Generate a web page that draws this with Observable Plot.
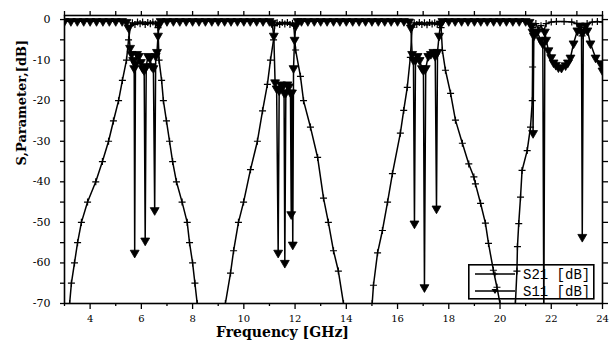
<!DOCTYPE html>
<html><head><meta charset="utf-8">
<script src="https://cdn.jsdelivr.net/npm/d3@7"></script>
<script src="https://cdn.jsdelivr.net/npm/@observablehq/plot@0.6"></script>
<style>
html,body{margin:0;padding:0;background:#fff;}
#wrap{position:relative;width:616px;height:347px;overflow:hidden;}
#legend{position:absolute;left:468px;top:264px;}
</style></head><body><div id="wrap"></div>
<script>
// S21 [dB] readings: [frequency GHz, dB]
const s21Points = [
 [3.0,-78],[3.2,-70],[3.27,-65],[3.39,-60],[3.51,-55],[3.66,-50],[3.9,-45],[4.22,-40],[4.48,-35],[4.72,-30],[4.91,-25],[5.11,-20],[5.26,-15],[5.42,-10],[5.5,-5],[5.58,-1.5],
 [5.65,-0.8],[5.75,-1.2],[5.85,-0.6],[5.95,-1],[6.05,-0.6],[6.15,-1.2],[6.25,-0.7],[6.35,-1],[6.45,-0.6],[6.55,-1.1],[6.65,-2],
 [6.69,-10],[6.79,-15],[6.86,-20],[6.98,-25],[7.1,-30],[7.22,-35],[7.37,-40],[7.59,-45],[7.79,-50],[7.88,-55],[8.0,-60],[8.09,-65],[8.18,-70],[8.35,-76],
 [9.1,-76],[9.28,-70],[9.48,-62.5],[9.6,-57],[9.79,-50],[9.99,-45],[10.26,-37],[10.53,-30],[10.73,-22.5],[10.92,-16],[11.04,-10],[11.16,-5],[11.2,-1.5],
 [11.3,-0.8],[11.4,-1.2],[11.5,-0.7],[11.6,-1.1],[11.7,-0.7],[11.8,-1.2],[11.9,-0.9],[11.95,-1.5],
 [12.02,-7.5],[12.21,-14],[12.33,-20],[12.6,-26.5],[12.88,-34],[13.11,-44],[13.3,-50],[13.5,-57],[13.69,-62],[13.89,-70],[14.05,-76],
 [14.9,-76],[15.01,-70],[15.06,-65.5],[15.22,-57.5],[15.41,-52],[15.61,-45],[15.8,-38],[16.11,-28],[16.24,-22.4],[16.38,-16.7],[16.5,-9.3],[16.57,-1.9],
 [16.65,-0.8],[16.75,-1.2],[16.85,-0.7],[16.95,-1.2],[17.05,-0.8],[17.15,-1.3],[17.25,-0.7],[17.35,-1.1],[17.45,-0.8],[17.55,-1.2],[17.64,-1],[17.7,-2],
 [17.75,-7.6],[17.87,-12.5],[18.07,-18.2],[18.26,-24.8],[18.53,-30.5],[18.78,-35.6],[18.98,-38.8],[19.04,-40.5],[19.24,-45.3],[19.43,-50.2],[19.55,-55.2],[19.74,-61.8],[19.88,-66],[20.0,-70],[20.15,-76],
 [20.5,-76],[20.6,-70],[20.66,-62],[20.68,-56],[20.73,-50.3],[20.8,-43.8],[20.86,-37.2],[21.06,-32.3],[21.19,-26.5],[21.26,-20],[21.27,-11.7],[21.28,-2],
 [21.4,-1],[21.5,-2.5],[21.6,-1.5],[21.7,-3],[21.8,-1],[22.0,-0.6],[22.2,-0.5],[22.5,-0.5],[22.8,-0.6],[23.0,-1],[23.1,-2.5],[23.2,-4],[23.3,-2],[23.4,-1],[23.6,-0.6],[23.8,-0.5],[24.0,-0.6]
];
// S11 [dB] readings: [frequency GHz, dB]
const s11Points = [
 [3.0,-0.4],[3.25,-0.4],[3.5,-0.4],[3.75,-0.4],[4.0,-0.4],[4.25,-0.4],[4.5,-0.4],[4.75,-0.4],[5.0,-0.4],[5.25,-0.4],[5.42,-0.6],
 [5.5,-2],[5.56,-7],[5.62,-8.5],[5.68,-10],[5.72,-12],[5.74,-57.5],[5.77,-11],[5.83,-8.5],[5.9,-9],[5.98,-10.5],[6.05,-12],[6.11,-12.5],[6.15,-54.5],[6.19,-11.5],
 [6.26,-9],[6.33,-9.5],[6.4,-11.5],[6.47,-12],[6.52,-47],[6.56,-9],[6.61,-8],[6.65,-4],[6.7,-1.2],[6.75,-0.4],
 [7.0,-0.4],[7.25,-0.4],[7.5,-0.4],[7.75,-0.4],[8.0,-0.4],[8.25,-0.4],[8.5,-0.4],[8.75,-0.4],[9.0,-0.4],[9.25,-0.4],[9.5,-0.4],[9.75,-0.4],[10.0,-0.4],[10.25,-0.4],[10.5,-0.4],[10.75,-0.4],[11.0,-0.4],
 [11.1,-0.8],[11.17,-4],[11.22,-15.5],[11.28,-17],[11.34,-57.5],[11.38,-17.5],[11.45,-16],[11.52,-16.5],[11.57,-18],[11.6,-60],[11.64,-18],[11.7,-16],[11.76,-16.5],[11.82,-18],[11.85,-48],[11.88,-18],[11.91,-55.5],[11.94,-12],[11.98,-5],[12.03,-1.5],[12.1,-0.4],
 [12.25,-0.4],[12.5,-0.4],[12.75,-0.4],[13.0,-0.4],[13.25,-0.4],[13.5,-0.4],[13.75,-0.4],[14.0,-0.4],[14.25,-0.4],[14.5,-0.4],[14.75,-0.4],[15.0,-0.4],[15.25,-0.4],[15.5,-0.4],[15.75,-0.4],[16.0,-0.4],[16.25,-0.4],[16.45,-0.5],
 [16.52,-2],[16.57,-8.5],[16.62,-10],[16.66,-50.3],[16.7,-10],[16.78,-9],[16.86,-10],[16.95,-12],[17.01,-12.5],[17.05,-66],[17.1,-12],[17.2,-9],[17.3,-8.5],[17.4,-8],[17.47,-9],[17.52,-46.6],[17.56,-8],[17.62,-4],[17.68,-1],[17.75,-0.4],
 [18.0,-0.4],[18.25,-0.4],[18.5,-0.4],[18.75,-0.4],[19.0,-0.4],[19.25,-0.4],[19.5,-0.4],[19.75,-0.4],[20.0,-0.4],[20.25,-0.4],[20.5,-0.4],[20.75,-0.4],[21.0,-0.4],[21.15,-0.6],
 [21.22,-1.5],[21.27,-3],[21.29,-28],[21.32,-4],[21.45,-3],[21.58,-5],[21.67,-6],[21.71,-75],[21.75,-3],[21.8,-5],[21.89,-7.6],[22.0,-9.3],[22.09,-10.6],[22.18,-11.2],[22.28,-11.8],[22.4,-11.9],[22.56,-11.3],[22.65,-10.6],[22.75,-9.4],[22.87,-5.9],[23.02,-2.7],
 [23.12,-1.5],[23.18,-3],[23.21,-53.6],[23.25,-3],[23.35,-1.5],[23.41,-2.7],[23.53,-5.9],[23.73,-9.4],[23.92,-10.8],[24.0,-12.6]
];
const seriesNames = ["S21 [dB]", "S11 [dB]"];
const xMajorTicks = [4, 6, 8, 10, 12, 14, 16, 18, 20, 22, 24];
const xMinorTicks = [3, 5, 7, 9, 11, 13, 15, 17, 19, 21, 23];
const xTopTicks = [3,4,5,6,7,8,9,10,11,12,13,14,15,16,17,18,19,20,21,22,23,24];
const yMajorTicks = [0, -10, -20, -30, -40, -50, -60, -70];
const yMinorTicks = [-5, -15, -25, -35, -45, -55, -65];
const xLabel = "Frequency [GHz]";
const yLabel = "S,Parameter,[dB]";

const s21 = s21Points.map(([f, v]) => ({f, v}));
const s11 = s11Points.map(([f, v]) => ({f, v}));
const tickFont = "DejaVu Serif";
const titleFont = "DejaVu Serif";

const chart = Plot.plot({
  width: 616, height: 347,
  marginLeft: 64, marginRight: 14, marginTop: 15, marginBottom: 44,
  style: {fontFamily: tickFont, fontSize: "10px", color: "#000", background: "#fff"},
  x: {domain: [3, 24], label: null},
  y: {domain: [-70, 1], label: null},
  marks: [
    Plot.line(s21, {x: "f", y: "v", stroke: "#000", strokeWidth: 1.5, clip: true}),
    Plot.dot(s21, {x: "f", y: "v", symbol: "plus", r: 2.4, stroke: "#000", strokeWidth: 1.2, clip: true}),
    Plot.line(s11, {x: "f", y: "v", stroke: "#000", strokeWidth: 1.5, clip: true}),
    Plot.dot(s11, {x: "f", y: "v", symbol: "triangle", rotate: 180, r: 3.3, fill: "#000", stroke: "#000", strokeWidth: 0.8, clip: true}),
    Plot.frame({stroke: "#000", strokeWidth: 1.6}),
    Plot.axisX(xMajorTicks, {anchor: "bottom", tickSize: 6, tickPadding: 5, fontSize: 10, label: null, strokeWidth: 1.3}),
    Plot.axisX(xMinorTicks, {anchor: "bottom", tickSize: 3, tickFormat: () => "", label: null, strokeWidth: 1.3}),
    Plot.axisX(xTopTicks, {anchor: "top", tickSize: 5, tickFormat: () => "", label: null, strokeWidth: 1.3}),
    Plot.axisY(yMajorTicks, {anchor: "left", tickSize: 4, tickPadding: 10, fontSize: 11, label: null, strokeWidth: 1.3,
      tickFormat: d => d === 0 ? "0" : "-" + Math.abs(d)}),
    Plot.axisY(yMinorTicks, {anchor: "left", tickSize: 4, tickFormat: () => "", label: null, strokeWidth: 1.3}),
    Plot.axisY(yMajorTicks.concat(yMinorTicks), {anchor: "right", tickSize: 5, tickFormat: () => "", label: null, strokeWidth: 1.3}),
    Plot.text([xLabel], {frameAnchor: "bottom", dx: -51, dy: 33, fontWeight: "bold", fontSize: 14, fontFamily: titleFont}),
    Plot.text([yLabel], {frameAnchor: "left", rotate: -90, dx: -43, dy: 6, fontWeight: "bold", fontSize: 13, fontFamily: titleFont})
  ]
});
const wrap = document.getElementById("wrap");
wrap.appendChild(chart);

// Legend (inside the plot area, transparent)
const ns = "http://www.w3.org/2000/svg";
const lg = document.createElementNS(ns, "svg");
lg.setAttribute("id", "legend");
lg.setAttribute("width", 127);
lg.setAttribute("height", 36);
lg.innerHTML = `
  <rect x="0.8" y="0.8" width="125" height="34" fill="none" stroke="#000" stroke-width="1.6"/>
  <line x1="7" y1="10" x2="47" y2="10" stroke="#000" stroke-width="1.4"/>
  <path d="M24.6,10h4.8M27,7.6v4.8" stroke="#000" stroke-width="1.2"/>
  <text x="55" y="14.5" font-family="Liberation Mono" font-size="14">${seriesNames[0]}</text>
  <line x1="7" y1="27" x2="47" y2="27" stroke="#000" stroke-width="1.4"/>
  <path d="M23.5,25h7l-3.5,5z" fill="#000"/>
  <text x="55" y="31.5" font-family="Liberation Mono" font-size="14">${seriesNames[1]}</text>`;
wrap.appendChild(lg);
</script>
</body></html>
